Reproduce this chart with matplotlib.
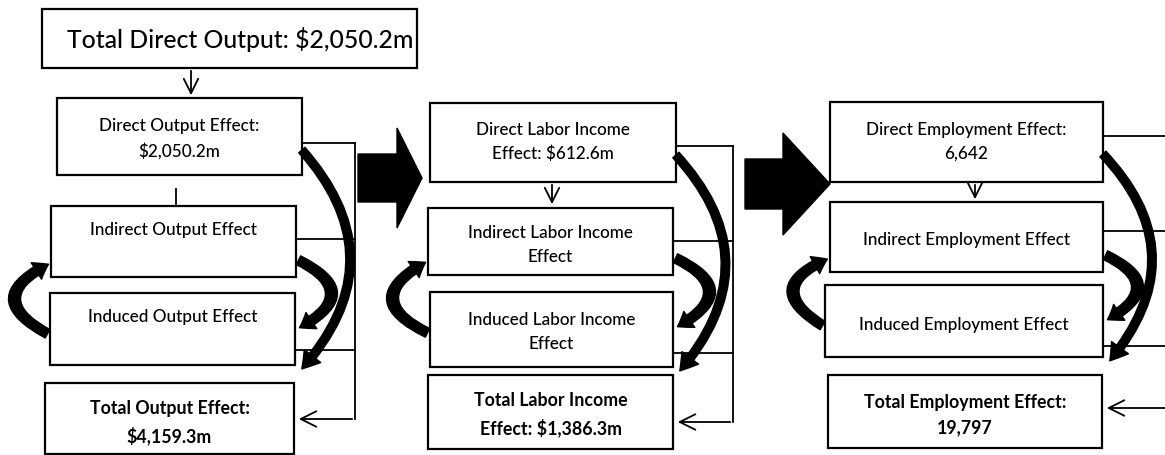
import matplotlib.pyplot as plt
from matplotlib.patches import Rectangle, FancyArrow, FancyArrowPatch

plt.rcParams['font.family'] = ['Lato', 'DejaVu Sans']

# diagram text
title_text = 'Total Direct Output: $2,050.2m'
direct_labels = ['Direct Output Effect:\n$2,050.2m',
                 'Direct Labor Income\nEffect: $612.6m',
                 'Direct Employment Effect:\n6,642']
indirect_labels = ['Indirect Output Effect',
                   'Indirect Labor Income\nEffect',
                   'Indirect Employment Effect']
induced_labels = ['Induced Output Effect',
                  'Induced Labor Income\nEffect',
                  'Induced Employment Effect']
total_labels = ['Total Output Effect:\n$4,159.3m',
                'Total Labor Income\nEffect: $1,386.3m',
                'Total Employment Effect:\n19,797']

# layout in pixel units (x0, y0, x1, y1), y going down
boxes = [
    [(57, 99, 302, 176), (51, 207, 296, 278), (50, 294, 295, 366), (45, 384, 294, 455)],
    [(430, 104, 676, 183), (428, 209, 673, 276), (430, 293, 673, 368), (428, 376, 673, 450)],
    [(830, 103, 1103, 183), (830, 203, 1103, 273), (825, 286, 1103, 358), (828, 376, 1102, 449)],
]
text_y = [[139, 230, 317, 423], [142, 245, 332, 415], [142, 240, 325, 415]]
bracket_x = [355, 733, 1168]
bracket_y = [[144, 240, 351, 420], [147, 242, 354, 423], [137, 232, 347, 409]]
down_arrows = [(191, 69, 99), (552, 183, 208), (975, 183, 203)]

fig = plt.figure(figsize=(11.65, 4.56), dpi=100)
ax = fig.add_axes([0, 0, 1, 1])
ax.set_xlim(0, 1165)
ax.set_ylim(456, 0)
ax.axis('off')

# top box
ax.add_patch(Rectangle((42, 10), 375, 59, fill=False, lw=1.6, ec='black'))
ax.text(240, 40, title_text, ha='center', va='center', fontsize=17.8, fontweight='medium')

for c in range(3):
    labels = [direct_labels[c], indirect_labels[c], induced_labels[c], total_labels[c]]
    for r in range(4):
        x0, y0, x1, y1 = boxes[c][r]
        ax.add_patch(Rectangle((x0, y0), x1 - x0, y1 - y0, fill=False, lw=1.6, ec='black'))
        bold = r == 3
        ax.text((x0 + x1) / 2, text_y[c][r], labels[r], ha='center', va='center',
                fontsize=12.8 if bold else 12.3, linespacing=1.6,
                fontweight='bold' if bold else 'medium')

    # bracket lines on the right
    bx = bracket_x[c]
    ys = bracket_y[c]
    for r in range(3):
        ax.plot([boxes[c][r][2], bx], [ys[r], ys[r]], color='black', lw=1.3)
    ax.plot([bx, bx], [ys[0], ys[3]], color='black', lw=1.3)
    ax.annotate('', xy=(boxes[c][3][2] + 2, ys[3]), xytext=(bx, ys[3]),
                arrowprops=dict(arrowstyle='->', lw=1.3, color='black', mutation_scale=28))

    # thin down arrow between first two boxes
    dx, dy0, dy1 = down_arrows[c]
    ax.annotate('', xy=(dx, dy1), xytext=(dx, dy0),
                arrowprops=dict(arrowstyle='->', lw=1.3, color='black', mutation_scale=26))

    # thick curved arrows
    d, ind, indu = boxes[c][0], boxes[c][1], boxes[c][2]
    big = FancyArrowPatch((d[2] - 2, d[1] + 50), (indu[2] + 5, indu[3] + 6),
                          connectionstyle='arc3,rad=-0.45',
                          arrowstyle='simple,tail_width=6,head_width=15,head_length=12',
                          color='black', mutation_scale=1)
    ax.add_patch(big)
    small = FancyArrowPatch((ind[2], ind[3] - 18), (indu[2] + 2, indu[1] + 36),
                            connectionstyle='arc3,rad=-1.0',
                            arrowstyle='simple,tail_width=7,head_width=14,head_length=10',
                            color='black', mutation_scale=1)
    ax.add_patch(small)
    loop = FancyArrowPatch((indu[0], indu[1] + 42), (ind[0], ind[3] - 14),
                           connectionstyle='arc3,rad=-1.0',
                           arrowstyle='simple,tail_width=7,head_width=14,head_length=10',
                           color='black', mutation_scale=1)
    ax.add_patch(loop)

# short tick below the first direct box
ax.plot([176, 176], [190, 205], color='black', lw=1.3)

# big block arrows between columns
ax.add_patch(FancyArrow(358, 179, 64, 0, width=48, head_width=100, head_length=25,
                        length_includes_head=True, color='black'))
ax.add_patch(FancyArrow(745, 185, 85, 0, width=50, head_width=102, head_length=47,
                        length_includes_head=True, color='black'))

fig.savefig('out.png', dpi=100)
